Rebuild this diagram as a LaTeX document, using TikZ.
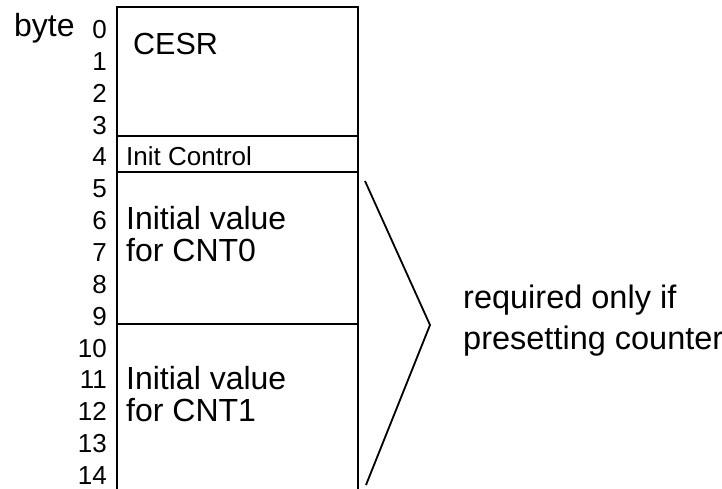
\documentclass[tikz,border=0pt]{standalone}
\usepackage{fontspec}
\setmainfont{Liberation Sans}
\begin{document}
\begin{tikzpicture}[x=1pt,y=-1pt,
  frame/.style={line width=2.2pt,line cap=rect},
  bracket/.style={line width=1.8pt,line join=miter},
  bytenum/.style={anchor=base east,inner sep=0pt,font=\fontsize{26}{30}\selectfont},
  field/.style={anchor=base west,inner sep=0pt,font=\fontsize{32}{34}\selectfont},
  smallfield/.style={anchor=base west,inner sep=0pt,font=\fontsize{26}{30}\selectfont},
  note/.style={anchor=base west,inner sep=0pt,font=\fontsize{32.5}{34}\selectfont},
]
\useasboundingbox (0,0) rectangle (722,489);

% memory layout frame (open at the bottom)
\draw[frame] (117,489) -- (117,7) -- (358,7) -- (358,489);
\draw[frame] (117,136) -- (358,136);
\draw[frame] (117,172) -- (358,172);
\draw[frame] (117,324) -- (358,324);

% byte offsets
\node[anchor=base west,inner sep=0pt,font=\fontsize{32}{34}\selectfont] (byte) at (14,37) {byte};
\foreach \n in {0,...,14} {
  \node[bytenum] (b\n) at (107,{38.5+31.85*\n}) {\n};
}

% field names
\node[anchor=base west,inner sep=0pt,font=\fontsize{30.5}{34}\selectfont] (cesr) at (133,55) {CESR};
\node[smallfield] (init) at (126,166) {Init Control};
\node[field] (iv0) at (126,229) {Initial value};
\node[field] (cnt0) at (126,261) {for CNT0};
\node[field] (iv1) at (126,389) {Initial value};
\node[field] (cnt1) at (126,421) {for CNT1};

% bracket over the two counter fields
\coordinate (top) at (365,181);
\coordinate (tip) at (430,325);
\coordinate (bot) at (366,485);
\draw[bracket] (top) -- (tip) -- (bot);

\node[note] (req) at (463,308) {required only if};
\node[note] (pre) at (463,349) {presetting counter};
\end{tikzpicture}
\end{document}
